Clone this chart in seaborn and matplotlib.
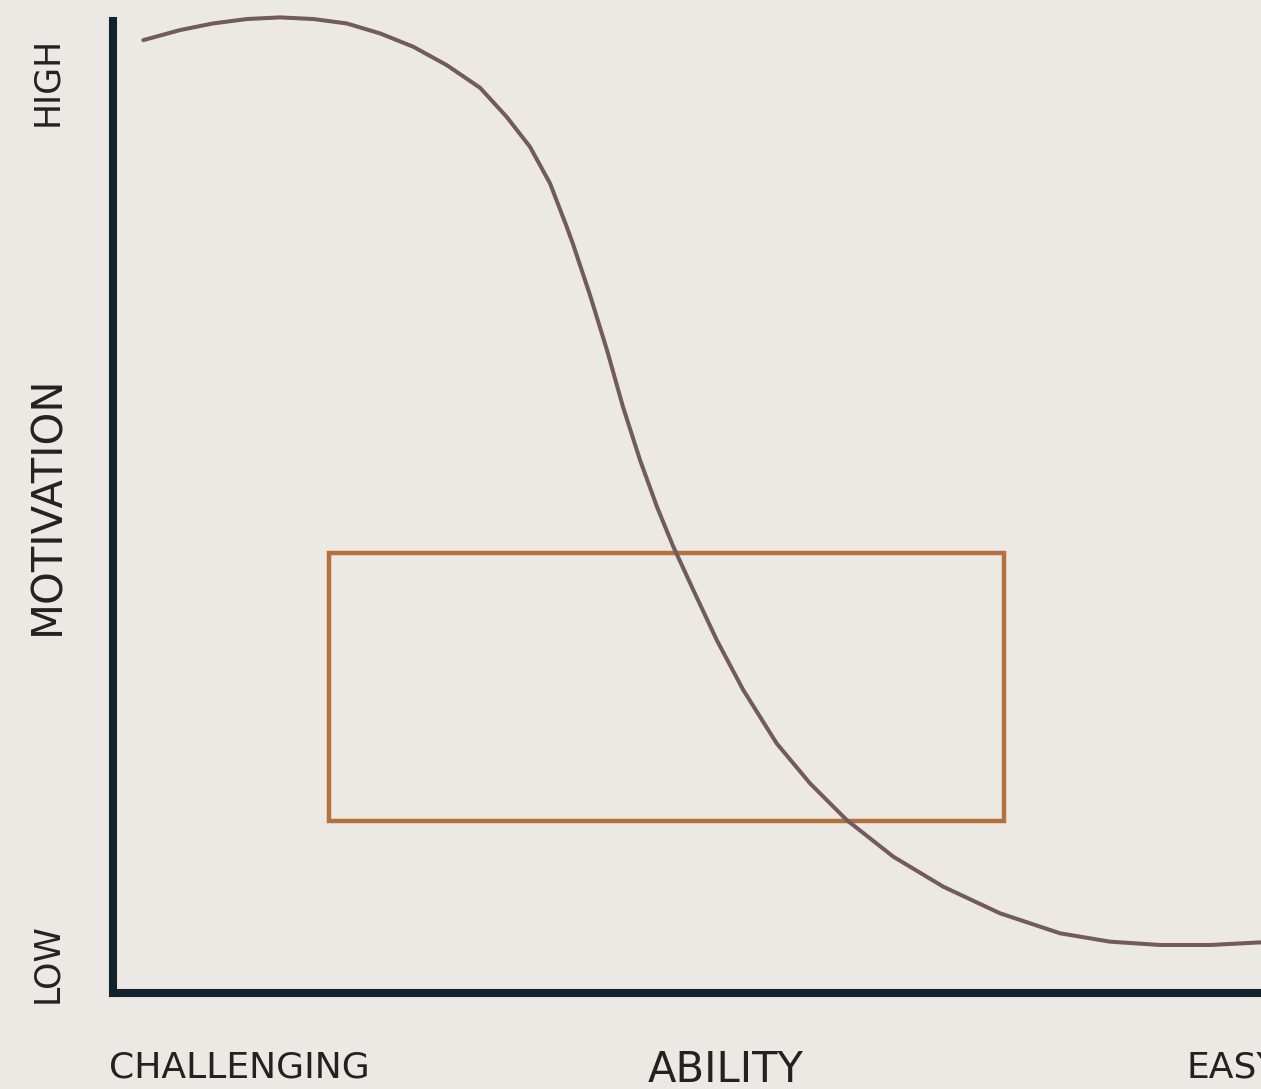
import pandas as pd
import seaborn as sns
import matplotlib
matplotlib.use("Agg")
import matplotlib.pyplot as plt
from matplotlib.patches import Rectangle

# ability (0 = challenging, 100 = easy) vs motivation (0 = low, 100 = high)
ability = [2.64, 5.84, 8.71, 11.65, 14.55, 17.45, 20.36, 23.26, 26.16, 29.07,
           31.97, 34.29, 36.32, 38.07, 39.52, 40.07, 41.55, 43.03, 44.43, 45.91,
           47.39, 48.81, 50.55, 52.59, 54.90, 57.81, 60.71, 63.91, 67.97, 72.33,
           77.26, 82.49, 86.85, 91.20, 95.56, 100.0]
motivation = [97.64, 98.67, 99.35, 99.80, 99.97, 99.80, 99.35, 98.33, 96.96, 95.08,
              92.76, 89.78, 86.71, 82.96, 78.52, 76.74, 71.52, 65.88, 60.04, 54.61,
              49.80, 45.73, 41.29, 36.17, 31.05, 25.58, 21.49, 17.73, 13.97, 10.89,
              8.17, 6.12, 5.26, 4.92, 4.92, 5.19]

# box zone
box_ability = [18.8, 77.6]
box_motivation = [17.6, 45.1]

BG = "#ECE9E4"
CURVE = "#735A5E"
BOX = "#B5713D"
AXIS = "#12232E"
TXT = "#222222"


def set_config():
    sns.set_theme(style="white")
    plt.rcParams["font.family"] = ["DejaVu Sans"]
    plt.rcParams["figure.facecolor"] = BG
    plt.rcParams["axes.facecolor"] = BG


def draw():
    df = pd.DataFrame({"ability": ability, "motivation": motivation})

    W, H = 1261, 1089
    fig = plt.figure(figsize=(12.61, 10.89), dpi=100)
    # axis line stops a little below the top of the curve
    ax = fig.add_axes([113 / W, 96 / H, 1 - 113 / W, (993 - 21) / H])

    sns.lineplot(data=df, x="ability", y="motivation", sort=False, estimator=None,
                 color=CURVE, linewidth=2.9, ax=ax, zorder=3, clip_on=False)

    ax.add_patch(Rectangle((box_ability[0], box_motivation[0]),
                           box_ability[1] - box_ability[0],
                           box_motivation[1] - box_motivation[0],
                           fill=False, edgecolor=BOX, linewidth=3.2,
                           joinstyle="miter", zorder=2))

    ax.set_xlim(0, 100)
    ax.set_ylim(0, 99.6)
    ax.set_xticks([])
    ax.set_yticks([])
    ax.set_xlabel("")
    ax.set_ylabel("")
    for side in ["top", "right"]:
        ax.spines[side].set_visible(False)
    for side in ["left", "bottom"]:
        ax.spines[side].set_color(AXIS)
        ax.spines[side].set_linewidth(5.8)
        ax.spines[side].set_capstyle("projecting")

    fig.text(47 / W, 1 - 81 / H, "HIGH", rotation=90, ha="center", va="center",
             fontsize=25, color=TXT)
    fig.text(47 / W, 1 - 963 / H, "LOW", rotation=90, ha="center", va="center",
             fontsize=25, color=TXT)
    fig.text(47 / W, 1 - 505 / H, "MOTIVATION", rotation=90, ha="center", va="center",
             fontsize=30, color=TXT)
    fig.text(109 / W, 1 - 1068 / H, "CHALLENGING", ha="left", va="center",
             fontsize=26, color=TXT)
    fig.text(726 / W, 1 - 1070 / H, "ABILITY", ha="center", va="center",
             fontsize=30, color=TXT)
    # EASY runs off the right edge, as in the source image
    fig.text(1186 / W, 1 - 1068 / H, "EASY", ha="left", va="center",
             fontsize=26, color=TXT)

    fig.savefig("out.png", dpi=100, facecolor=BG)


if __name__ == "__main__":
    set_config()
    draw()
